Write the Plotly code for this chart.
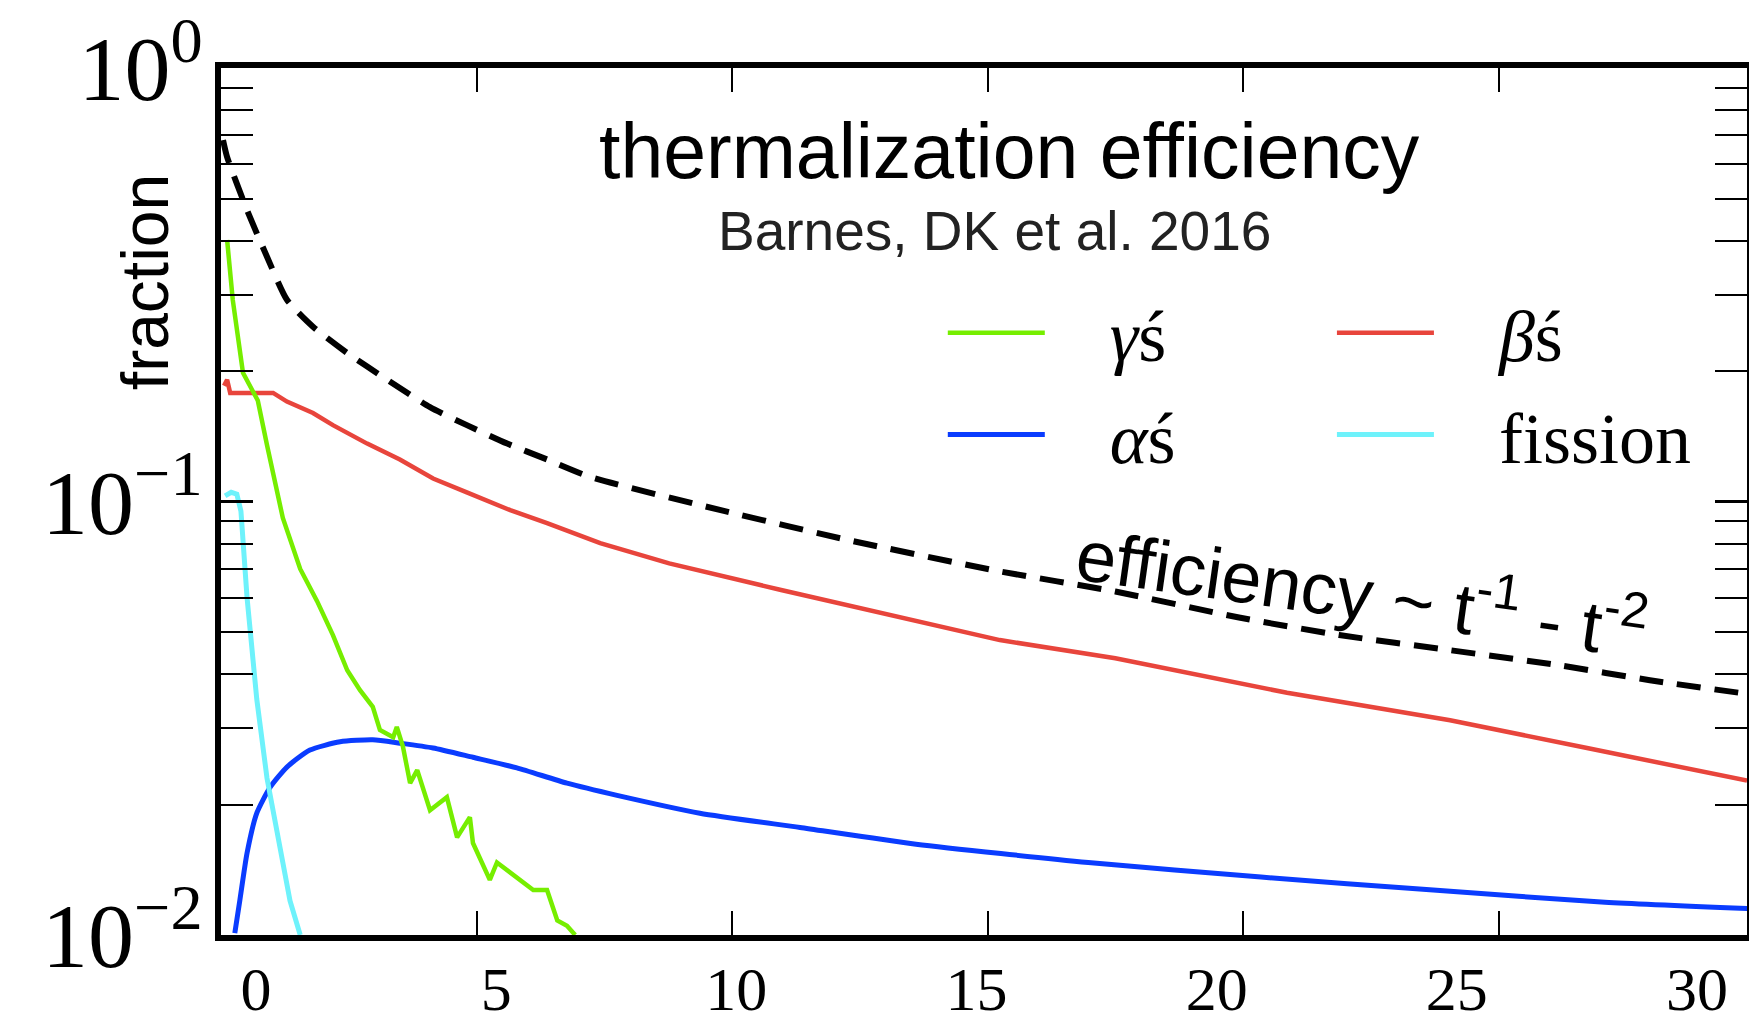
import plotly.graph_objects as go

# ---------------- data ----------------
t_total = [0.04, 0.12, 0.51, 0.90, 1.29, 1.80, 2.47, 3.25, 4.09, 4.81, 5.60, 6.38, 7.22,
           9.86, 12.27, 15.24, 17.50, 19.92, 21.88, 24.05, 26.24, 27.96, 29.86]
f_total = [0.682, 0.623, 0.470, 0.367, 0.292, 0.253, 0.220, 0.191, 0.165, 0.150, 0.136, 0.125, 0.114,
           0.095, 0.0815, 0.0690, 0.0620, 0.0540, 0.0492, 0.0454, 0.0418, 0.0387, 0.0360]

t_beta = [0.06, 0.12, 0.18, 0.57, 1.02, 1.29, 1.80, 2.19, 2.86, 3.50, 4.15, 4.81, 5.66, 6.38,
          7.42, 8.77, 10.96, 15.24, 17.50, 20.86, 24.05, 26.73, 29.86]
f_beta = [0.185, 0.191, 0.178, 0.178, 0.178, 0.170, 0.160, 0.150, 0.136, 0.125, 0.113, 0.105, 0.0955, 0.0892,
          0.0802, 0.072, 0.0625, 0.0479, 0.0435, 0.0362, 0.0313, 0.0270, 0.0227]

t_alpha = [0.27, 0.37, 0.51, 0.70, 0.96, 1.29, 1.74, 2.33, 2.97, 3.50, 4.15, 4.93, 5.79, 6.77,
           7.75, 9.37, 11.33, 13.60, 16.97, 20.35, 23.72, 27.08, 29.90]
f_alpha = [0.0101, 0.01205, 0.01546, 0.0191, 0.0219, 0.0244, 0.0267, 0.0279, 0.0282, 0.0277, 0.0270,
           0.0257, 0.0243, 0.0224, 0.0210, 0.0191, 0.0177, 0.0162, 0.0147, 0.0136, 0.0127, 0.0119, 0.0115]

t_gamma = [0.12, 0.23, 0.43, 0.72, 0.90, 1.21, 1.55, 1.88, 2.19, 2.47, 2.72, 2.97, 3.11, 3.37, 3.44,
           3.56, 3.70, 3.84, 4.09, 4.42, 4.62, 4.87, 4.93, 5.26, 5.40, 6.11, 6.38, 6.58, 6.77, 6.93]
f_gamma = [0.401, 0.292, 0.198, 0.171, 0.135, 0.0916, 0.0699, 0.0589, 0.0492, 0.0408, 0.0367, 0.0336,
           0.0297, 0.0286, 0.0302, 0.0272, 0.0224, 0.0240, 0.0194, 0.0208, 0.0168, 0.0187, 0.0163,
           0.0134, 0.0147, 0.0127, 0.0127, 0.0108, 0.0105, 0.0100]

t_fission = [0.08, 0.20, 0.31, 0.39, 0.51, 0.70, 0.90, 1.10, 1.25, 1.35, 1.55]
f_fission = [0.103, 0.105, 0.104, 0.095, 0.060, 0.035, 0.023, 0.0172, 0.0135, 0.0120, 0.0100]

x_ticks = [0, 5, 10, 15, 20, 25, 30]
y_ticks = [0.01, 0.1, 1]
y_ticktext = ["10<sup>\u22122</sup>", "10<sup>\u22121</sup>", "10<sup>0</sup>"]
y_minor_ticks = [0.02, 0.03, 0.04, 0.05, 0.06, 0.07, 0.08, 0.09,
                 0.2, 0.3, 0.4, 0.5, 0.6, 0.7, 0.8, 0.9]

NB = "\u00a0\u00a0\u00a0\u200a"
legend_names = {"gamma": NB + "<i>\u03b3</i>\u015b", "beta": NB + "<i>\u03b2</i>\u015b",
                "alpha": NB + "<i>\u03b1</i>\u015b", "fission": NB + "fission"}

# ---------------- figure ----------------
GREEN = "#76ee00"
RED = "#e8453c"
BLUE = "#0a3cff"
CYAN = "#6ef2fb"

fig = go.Figure()

fig.add_trace(go.Scatter(x=t_total, y=f_total, mode="lines", showlegend=False,
                         line=dict(color="black", width=6, dash="24px,14px", shape="spline", smoothing=0.6)))
fig.add_trace(go.Scatter(x=t_beta, y=f_beta, mode="lines", name=legend_names["beta"],
                         legend="legend2", legendgroup="b", legendrank=1,
                         line=dict(color=RED, width=4.5)))
fig.add_trace(go.Scatter(x=t_alpha, y=f_alpha, mode="lines", name=legend_names["alpha"],
                         legend="legend", legendgroup="a", legendrank=2,
                         line=dict(color=BLUE, width=5, shape="spline", smoothing=0.6)))
fig.add_trace(go.Scatter(x=t_fission, y=f_fission, mode="lines", name=legend_names["fission"],
                         legend="legend2", legendgroup="f", legendrank=2,
                         line=dict(color=CYAN, width=5)))
fig.add_trace(go.Scatter(x=t_gamma, y=f_gamma, mode="lines", name=legend_names["gamma"],
                         legend="legend", legendgroup="g", legendrank=1,
                         line=dict(color=GREEN, width=4.5)))
# invisible helper trace so the label axis is drawn
fig.add_trace(go.Scatter(x=[x_ticks[0]], y=[0.5], xaxis="x2", yaxis="y", mode="markers",
                         marker=dict(opacity=0), showlegend=False, hoverinfo="skip"))

serif = "Liberation Serif"
sans = "Liberation Sans"

legend_common = dict(font=dict(family=serif, size=72, color="black"), bgcolor="rgba(0,0,0,0)",
                     itemwidth=97, tracegroupgap=5, xanchor="left", yanchor="top",
                     orientation="v", traceorder="grouped")

fig.update_layout(
    width=1749, height=1029,
    margin=dict(l=221, r=2, t=68, b=94),
    paper_bgcolor="white", plot_bgcolor="white",
    xaxis=dict(range=[0, 29.86], tickvals=x_ticks, showticklabels=False, automargin=False,
               ticks="inside", ticklen=24, tickwidth=2, tickcolor="black",
               showline=True, linewidth=6, linecolor="black", mirror="allticks",
               showgrid=False, zeroline=False),
    xaxis2=dict(overlaying="x", anchor="y", side="bottom", range=[-0.729, 31.04], automargin=False,
                tickvals=x_ticks, ticks="", showline=False, showgrid=False, zeroline=False,
                tickfont=dict(family=serif, size=62, color="black"), ticklabelstandoff=12),
    yaxis=dict(type="log", range=[-2, 0], tickvals=y_ticks, ticktext=y_ticktext, automargin=False,
               ticks="inside", ticklen=32, tickwidth=2.5, tickcolor="black",
               minor=dict(tickvals=y_minor_ticks, ticks="inside", ticklen=18, tickwidth=2,
                          tickcolor="black", showgrid=False),
               showline=True, linewidth=6, linecolor="black", mirror="allticks",
               showgrid=False, zeroline=False,
               tickfont=dict(family=serif, size=92, color="black"), ticklabelstandoff=-6),
    legend=dict(x=0.473, y=0.756, **legend_common),
    legend2=dict(x=0.728, y=0.756, **legend_common),
    annotations=[
        dict(text="thermalization efficiency", xref="paper", yref="paper", x=0.517, y=0.904,
             xanchor="center", yanchor="middle",
             showarrow=False, font=dict(family=sans, size=77, color="black")),
        dict(text="Barnes, DK et al. 2016", xref="paper", yref="paper", x=0.507, y=0.812,
             xanchor="center", yanchor="middle",
             showarrow=False, font=dict(family=sans, size=55, color="#222222")),
        dict(text="fraction", xref="paper", yref="paper", x=-0.0498, y=0.753, textangle=-90,
             xanchor="center", yanchor="middle",
             showarrow=False, font=dict(family=sans, size=66, color="black")),
        dict(text="efficiency ~ t<sup>-1</sup> - t<sup>-2</sup>", xref="paper", yref="paper",
             x=0.748, y=0.40, textangle=8, showarrow=False, xanchor="center", yanchor="middle",
             font=dict(family=sans, size=72, color="black")),
    ],
    showlegend=True,
)

fig.write_html("out.html")
